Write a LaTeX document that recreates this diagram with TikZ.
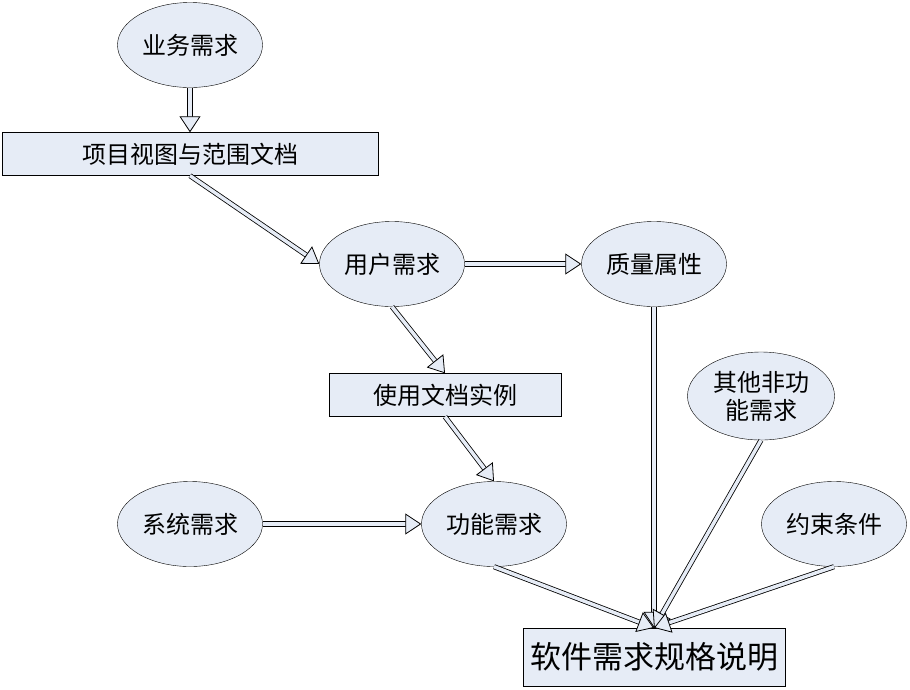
\documentclass[tikz,border=0pt]{standalone}
\usepackage{fontspec}
\setmainfont{Noto Sans CJK SC}
\usetikzlibrary{arrows.meta,shapes.geometric}
\definecolor{boxfill}{RGB}{230,236,246}

\begin{document}
\begin{tikzpicture}[x=1pt,y=-1pt,
	oval/.style={ellipse, draw, fill=boxfill, minimum width=145pt, minimum height=85pt, inner sep=1pt, font=\fontsize{24}{28}\selectfont},
	doc/.style={rectangle, draw, fill=boxfill, minimum height=43pt, font=\fontsize{24}{28}\selectfont},
	blk/.style={draw=black, line width=0.8pt, double=boxfill, double distance=3.5pt, -{Triangle[fill=boxfill, length=16pt, width=21pt, line width=0.8pt]}}]
	\useasboundingbox (0,0) rectangle (910,689);
	\node[oval] (yewu) at (190,45) {业务需求};
	\node[doc, minimum width=376pt] (fanwei) at (190,154) {项目视图与范围文档};
	\node[oval] (yonghu) at (392,264) {用户需求};
	\node[oval] (zhiliang) at (654,264) {质量属性};
	\node[doc, minimum width=232pt] (shili) at (445,395) {使用文档实例};
	\node[oval, minimum width=147pt, minimum height=88pt, align=center] (qita) at (761,396) {其他非功\\能需求};
	\node[oval] (xitong) at (190,524) {系统需求};
	\node[oval] (gongneng) at (494,524) {功能需求};
	\node[oval] (yueshu) at (834,524) {约束条件};
	\node[doc, minimum width=262pt, minimum height=58pt, font=\fontsize{31}{35}\selectfont] (guige) at (654,657) {软件需求规格说明};
	% arrows
	\draw[blk] (yewu.south) -- (fanwei.north);
	\draw[blk] (fanwei.south) -- (yonghu.west);
	\draw[blk] (yonghu.east) -- (zhiliang.west);
	\draw[blk] (yonghu.south) -- (shili.north);
	\draw[blk] (shili.south) -- (gongneng.north);
	\draw[blk] (xitong.east) -- (gongneng.west);
	\draw[blk] (gongneng.south) -- (guige.north);
	\draw[blk] (zhiliang.south) -- (guige.north);
	\draw[blk] (qita.south) -- (guige.north);
	\draw[blk] (yueshu.south) -- (guige.north);
\end{tikzpicture}
\end{document}
